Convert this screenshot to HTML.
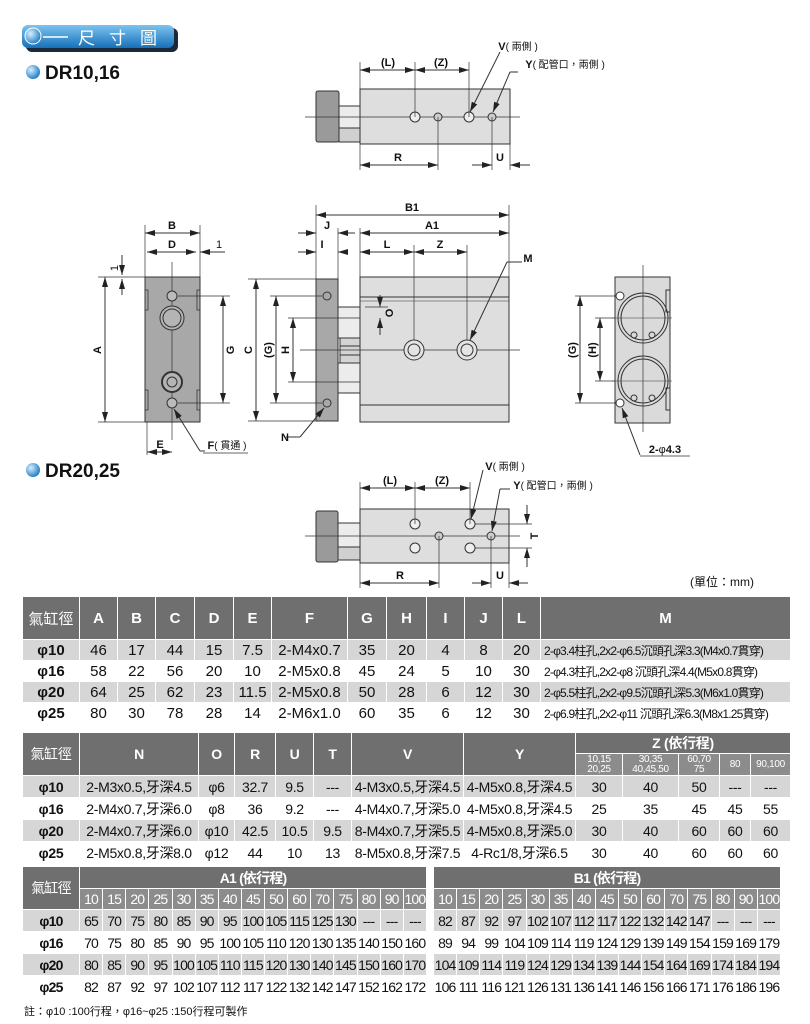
<!DOCTYPE html>
<html><head><meta charset="utf-8"><style>
body{margin:0;width:810px;height:1024px;background:#fff;position:relative;overflow:hidden;font-family:"Liberation Sans","Noto Sans CJK TC",sans-serif}
svg{position:absolute;left:0;top:0}
table{position:absolute;border-collapse:collapse;table-layout:fixed;font-family:"Liberation Sans Narrow","Liberation Sans","Noto Sans CJK TC",sans-serif;color:#111}
td{border:1px solid #fff;text-align:center;padding:0;overflow:hidden;white-space:nowrap}
.h td{background:#6f6f6f;color:#fff;font-weight:bold;font-family:"Liberation Sans","Noto Sans CJK TC",sans-serif;font-size:15px}
.s td{background:#8c8c8c;color:#fff;font-weight:normal;font-size:13px}
.g td{background:#d6d6d6}
.w td{background:#fff}
td.k{font-weight:bold;font-size:17px;font-family:"Liberation Sans",sans-serif}
.t1 td{font-size:15px}
.t1 td.m{font-size:12px;text-align:left;letter-spacing:-0.8px;padding-left:3px}
.t2 td{font-size:14px;letter-spacing:-0.3px}
.t3 td{font-size:14px;letter-spacing:-0.8px}
</style></head><body>
<svg width="810" height="600" viewBox="0 0 810 600" font-family="Liberation Sans, Noto Sans CJK TC, sans-serif">
<defs>
<marker id="a" viewBox="0 0 10 6" refX="10" refY="3" markerWidth="10" markerHeight="6" orient="auto-start-reverse" markerUnits="userSpaceOnUse"><path d="M0,0L10,3L0,6z" fill="#222"/></marker>
<linearGradient id="bl" x1="0" y1="0" x2="0" y2="1"><stop offset="0" stop-color="#7cc4f0"/><stop offset="1" stop-color="#1670b8"/></linearGradient>
<radialGradient id="ball" cx="0.35" cy="0.35" r="0.7"><stop offset="0" stop-color="#d8f0ff"/><stop offset="1" stop-color="#1a7ac4"/></radialGradient>
</defs>
<rect x="26" y="28" width="152" height="24" rx="6" fill="#1a2a3a"/>
<rect x="22" y="25" width="152" height="23" rx="6" fill="url(#bl)"/>
<circle cx="33" cy="36" r="8" fill="url(#ball)" stroke="#fff" stroke-width="1"/>
<line x1="43" y1="37" x2="68" y2="37" stroke="#fff" stroke-width="1.5"/>
<text x="78" y="44" font-size="17" fill="#fff" letter-spacing="14">尺寸圖</text>
<circle cx="33" cy="72" r="7" fill="url(#ball)"/>
<text x="45" y="79" font-size="19" font-weight="bold" fill="#111">DR10,16</text>
<circle cx="33" cy="470" r="7" fill="url(#ball)"/>
<text x="45" y="477" font-size="19" font-weight="bold" fill="#111">DR20,25</text>

<g stroke="#333" stroke-width="1" fill="none">
<rect x="316" y="91" width="23" height="51" fill="#9a9a9a" rx="2"/>
<rect x="339" y="106" width="21" height="22" fill="#ececec"/>
<rect x="339" y="128" width="21" height="14" fill="#d0d0d0"/>
<rect x="360" y="89" width="150" height="55" fill="#dedede"/>
<line x1="305" y1="117" x2="520" y2="117" stroke-width="0.7"/>
<circle cx="415" cy="117" r="5" fill="#eee"/><circle cx="438" cy="117" r="4" fill="#ccc"/>
<circle cx="469" cy="117" r="5" fill="#eee"/><circle cx="492" cy="117" r="4" fill="#ccc"/>
<line x1="360" y1="62" x2="360" y2="89" stroke-width="0.7"/><line x1="415" y1="62" x2="415" y2="117" stroke-width="0.7"/><line x1="469" y1="62" x2="469" y2="117" stroke-width="0.7"/>
<line x1="360" y1="70" x2="415" y2="70" marker-start="url(#a)" marker-end="url(#a)"/>
<line x1="415" y1="70" x2="469" y2="70" marker-start="url(#a)" marker-end="url(#a)"/>
<line x1="360" y1="144" x2="360" y2="170" stroke-width="0.7"/><line x1="438" y1="117" x2="438" y2="170" stroke-width="0.7"/>
<line x1="492" y1="117" x2="492" y2="170" stroke-width="0.7"/><line x1="510" y1="144" x2="510" y2="170" stroke-width="0.7"/>
<line x1="360" y1="165" x2="438" y2="165" marker-start="url(#a)" marker-end="url(#a)"/>
<line x1="472" y1="165" x2="492" y2="165" marker-end="url(#a)"/><line x1="530" y1="165" x2="510" y2="165" marker-end="url(#a)"/>
<line x1="500" y1="52" x2="470" y2="112" marker-end="url(#a)"/>
<line x1="518" y1="72" x2="510" y2="72"/><line x1="510" y1="72" x2="493" y2="112" marker-end="url(#a)"/>

<rect x="145" y="277" width="55" height="145" fill="#a8a8a8"/>
<path d="M145 290h3v20h-3M200 290h-3v20h3M145 390h3v20h-3M200 390h-3v20h3" stroke-width="0.8"/>
<line x1="172" y1="262" x2="172" y2="440" stroke-width="0.7"/>
<circle cx="172" cy="296" r="5" fill="#bbb"/><circle cx="172" cy="403" r="5" fill="#bbb"/>
<circle cx="172" cy="318" r="12" fill="#b4b4b4"/><circle cx="172" cy="318" r="9"/>
<circle cx="172" cy="382" r="10" fill="#b4b4b4" stroke-width="2"/><circle cx="172" cy="382" r="5"/>
<line x1="145" y1="225" x2="145" y2="277" stroke-width="0.7"/><line x1="200" y1="225" x2="200" y2="277" stroke-width="0.7"/>
<line x1="145" y1="233" x2="200" y2="233" marker-start="url(#a)" marker-end="url(#a)"/>
<line x1="147" y1="252" x2="196" y2="252" marker-start="url(#a)" marker-end="url(#a)"/>
<line x1="225" y1="252" x2="200" y2="252" marker-end="url(#a)"/>
<line x1="98" y1="277" x2="145" y2="277" stroke-width="0.7"/><line x1="98" y1="422" x2="145" y2="422" stroke-width="0.7"/>
<line x1="105" y1="277" x2="105" y2="422" marker-start="url(#a)" marker-end="url(#a)"/>
<line x1="122" y1="255" x2="122" y2="275" marker-end="url(#a)"/><line x1="122" y1="295" x2="122" y2="279" marker-end="url(#a)"/>
<line x1="178" y1="296" x2="230" y2="296" stroke-width="0.7"/><line x1="178" y1="403" x2="230" y2="403" stroke-width="0.7"/>
<line x1="223" y1="296" x2="223" y2="403" marker-start="url(#a)" marker-end="url(#a)"/>
<line x1="147" y1="422" x2="147" y2="455" stroke-width="0.7"/>
<line x1="147" y1="452" x2="172" y2="452" marker-start="url(#a)" marker-end="url(#a)"/>
<line x1="205" y1="451" x2="200" y2="451"/><line x1="200" y1="451" x2="174" y2="409" marker-end="url(#a)"/>
<line x1="203" y1="453" x2="248" y2="453" stroke-width="0.7"/>

<rect x="316" y="279" width="22" height="142" fill="#a8a8a8"/>
<circle cx="327" cy="296" r="4"/><circle cx="327" cy="403" r="4"/>
<rect x="338" y="307" width="22" height="31" fill="#ececec"/>
<rect x="338" y="363" width="22" height="30" fill="#ececec"/>
<rect x="340" y="338" width="20" height="25" fill="#d4d4d4"/>
<line x1="340" y1="346" x2="360" y2="346"/><line x1="340" y1="355" x2="360" y2="355"/>
<rect x="360" y="277" width="149" height="145" fill="#dedede"/>
<line x1="360" y1="297" x2="509" y2="297"/><line x1="360" y1="301" x2="509" y2="301" stroke-width="0.6"/>
<line x1="360" y1="405" x2="509" y2="405"/>
<line x1="300" y1="350" x2="520" y2="350" stroke-width="0.7"/>
<circle cx="414" cy="350" r="10" fill="#e4e4e4"/><circle cx="414" cy="350" r="6"/>
<circle cx="467" cy="350" r="10" fill="#e4e4e4"/><circle cx="467" cy="350" r="6"/>
<line x1="316" y1="205" x2="316" y2="279" stroke-width="0.7"/><line x1="509" y1="205" x2="509" y2="277" stroke-width="0.7"/>
<line x1="338" y1="228" x2="338" y2="279" stroke-width="0.7"/><line x1="360" y1="228" x2="360" y2="277" stroke-width="0.7"/>
<line x1="414" y1="245" x2="414" y2="340" stroke-width="0.7"/><line x1="467" y1="245" x2="467" y2="340" stroke-width="0.7"/>
<line x1="316" y1="215" x2="509" y2="215" marker-start="url(#a)" marker-end="url(#a)"/>
<line x1="298" y1="233" x2="316" y2="233" marker-end="url(#a)"/><line x1="355" y1="233" x2="338" y2="233" marker-end="url(#a)"/>
<line x1="360" y1="233" x2="509" y2="233" marker-start="url(#a)" marker-end="url(#a)"/>
<line x1="298" y1="252" x2="316" y2="252" marker-end="url(#a)"/><line x1="346" y1="252" x2="338" y2="252" marker-end="url(#a)"/>
<line x1="360" y1="252" x2="414" y2="252" marker-start="url(#a)" marker-end="url(#a)"/>
<line x1="414" y1="252" x2="467" y2="252" marker-start="url(#a)" marker-end="url(#a)"/>
<line x1="522" y1="262" x2="507" y2="262"/><line x1="507" y1="262" x2="470" y2="340" marker-end="url(#a)"/>
<line x1="248" y1="279" x2="316" y2="279" stroke-width="0.7"/><line x1="248" y1="421" x2="316" y2="421" stroke-width="0.7"/>
<line x1="256" y1="279" x2="256" y2="421" marker-start="url(#a)" marker-end="url(#a)"/>
<line x1="270" y1="296" x2="322" y2="296" stroke-width="0.7"/><line x1="270" y1="403" x2="322" y2="403" stroke-width="0.7"/>
<line x1="276" y1="296" x2="276" y2="403" marker-start="url(#a)" marker-end="url(#a)"/>
<line x1="288" y1="318" x2="360" y2="318" stroke-width="0.7"/><line x1="288" y1="382" x2="360" y2="382" stroke-width="0.7"/>
<line x1="293" y1="318" x2="293" y2="382" marker-start="url(#a)" marker-end="url(#a)"/>
<line x1="365" y1="307" x2="388" y2="307" stroke-width="0.7"/>
<line x1="380" y1="295" x2="380" y2="307" marker-end="url(#a)"/><line x1="380" y1="335" x2="380" y2="318" marker-end="url(#a)"/>
<line x1="286" y1="437" x2="300" y2="437"/><line x1="300" y1="437" x2="324" y2="408" marker-end="url(#a)"/>

<rect x="615" y="277" width="55" height="146" fill="#dadada"/>
<line x1="643" y1="265" x2="643" y2="432" stroke-width="0.7"/>
<circle cx="643" cy="318" r="25"/><circle cx="643" cy="318" r="22"/>
<circle cx="643" cy="381" r="25"/><circle cx="643" cy="381" r="22"/>
<line x1="612" y1="318" x2="672" y2="318" stroke-width="0.6"/><line x1="612" y1="381" x2="672" y2="381" stroke-width="0.6"/>
<circle cx="634" cy="335" r="3"/><circle cx="652" cy="335" r="3"/><circle cx="634" cy="398" r="3"/><circle cx="652" cy="398" r="3"/>
<circle cx="620" cy="296" r="4" fill="#fff"/><circle cx="620" cy="403" r="4" fill="#fff"/>
<path d="M670 290h-4v22h4M670 388h-4v22h4"/>
<line x1="575" y1="296" x2="616" y2="296" stroke-width="0.7"/><line x1="575" y1="403" x2="616" y2="403" stroke-width="0.7"/>
<line x1="580" y1="296" x2="580" y2="403" marker-start="url(#a)" marker-end="url(#a)"/>
<line x1="595" y1="318" x2="615" y2="318" stroke-width="0.7"/><line x1="595" y1="381" x2="615" y2="381" stroke-width="0.7"/>
<line x1="600" y1="318" x2="600" y2="381" marker-start="url(#a)" marker-end="url(#a)"/>
<line x1="640" y1="455" x2="622" y2="408" marker-end="url(#a)"/>
<line x1="640" y1="456" x2="690" y2="456" stroke-width="0.7"/>

<rect x="316" y="511" width="22" height="51" fill="#9a9a9a" rx="2"/>
<rect x="338" y="523" width="22" height="24" fill="#ececec"/>
<rect x="338" y="547" width="22" height="13" fill="#d0d0d0"/>
<rect x="360" y="509" width="149" height="54" fill="#dedede"/>
<line x1="305" y1="536" x2="520" y2="536" stroke-width="0.7"/>
<circle cx="415" cy="524" r="5" fill="#eee"/><circle cx="470" cy="524" r="5" fill="#eee"/>
<circle cx="415" cy="548" r="5" fill="#eee"/><circle cx="470" cy="548" r="5" fill="#eee"/>
<circle cx="439" cy="536" r="4" fill="#ccc"/><circle cx="491" cy="536" r="4" fill="#ccc"/>
<line x1="360" y1="482" x2="360" y2="509" stroke-width="0.7"/><line x1="415" y1="482" x2="415" y2="524" stroke-width="0.7"/><line x1="470" y1="482" x2="470" y2="524" stroke-width="0.7"/>
<line x1="360" y1="488" x2="415" y2="488" marker-start="url(#a)" marker-end="url(#a)"/>
<line x1="415" y1="488" x2="470" y2="488" marker-start="url(#a)" marker-end="url(#a)"/>
<line x1="360" y1="563" x2="360" y2="588" stroke-width="0.7"/><line x1="439" y1="536" x2="439" y2="588" stroke-width="0.7"/>
<line x1="491" y1="536" x2="491" y2="588" stroke-width="0.7"/><line x1="509" y1="563" x2="509" y2="588" stroke-width="0.7"/>
<line x1="360" y1="583" x2="439" y2="583" marker-start="url(#a)" marker-end="url(#a)"/>
<line x1="472" y1="583" x2="491" y2="583" marker-end="url(#a)"/><line x1="528" y1="583" x2="509" y2="583" marker-end="url(#a)"/>
<line x1="475" y1="524" x2="532" y2="524" stroke-width="0.7"/><line x1="475" y1="548" x2="532" y2="548" stroke-width="0.7"/>
<line x1="527" y1="505" x2="527" y2="524" marker-end="url(#a)"/><line x1="527" y1="567" x2="527" y2="548" marker-end="url(#a)"/>
<line x1="483" y1="470" x2="471" y2="519" marker-end="url(#a)"/>
<line x1="510" y1="489" x2="500" y2="489"/><line x1="500" y1="489" x2="492" y2="531" marker-end="url(#a)"/>
</g>

<g font-size="11" font-weight="bold" fill="#111" text-anchor="middle">
<text x="388" y="66">(L)</text><text x="441" y="66">(Z)</text>
<text x="398" y="161">R</text><text x="500" y="161">U</text>
<text x="518" y="50">V<tspan font-weight="normal" font-size="10">( 兩側 )</tspan></text>
<text x="565" y="68">Y<tspan font-weight="normal" font-size="10">( 配管口，兩側 )</tspan></text>
<text x="172" y="229">B</text><text x="172" y="248">D</text><text x="219" y="248" font-weight="normal">1</text>
<text x="160" y="448">E</text>
<text x="227" y="449">F<tspan font-weight="normal" font-size="10">( 貫通 )</tspan></text>
<text x="412" y="211">B1</text><text x="327" y="229">J</text><text x="432" y="229">A1</text>
<text x="322" y="248">I</text><text x="387" y="248">L</text><text x="440" y="248">Z</text>
<text x="528" y="262">M</text><text x="285" y="441">N</text>
<text x="665" y="453">2-<tspan font-weight="normal">φ</tspan>4.3</text>
<text x="390" y="484">(L)</text><text x="442" y="484">(Z)</text>
<text x="400" y="579">R</text><text x="500" y="579">U</text>
<text x="505" y="470">V<tspan font-weight="normal" font-size="10">( 兩側 )</tspan></text>
<text x="553" y="489">Y<tspan font-weight="normal" font-size="10">( 配管口，兩側 )</tspan></text>
<text x="0" y="0" transform="translate(101,350) rotate(-90)">A</text>
<text x="0" y="0" transform="translate(234,350) rotate(-90)">G</text>
<text x="0" y="0" transform="translate(118,268) rotate(-90)" font-weight="normal">1</text>
<text x="0" y="0" transform="translate(252,350) rotate(-90)">C</text>
<text x="0" y="0" transform="translate(272,350) rotate(-90)">(G)</text>
<text x="0" y="0" transform="translate(289,350) rotate(-90)">H</text>
<text x="0" y="0" transform="translate(393,313) rotate(-90)">O</text>
<text x="0" y="0" transform="translate(576,350) rotate(-90)">(G)</text>
<text x="0" y="0" transform="translate(596,350) rotate(-90)">(H)</text>
<text x="0" y="0" transform="translate(538,536) rotate(-90)">T</text>
</g>
<text x="690" y="586" font-size="12" fill="#111">(單位：mm)</text>
</svg>

<table class="t1" style="left:22px;top:596px;width:768px">
<colgroup><col style="width:57px"><col style="width:38px"><col style="width:38px"><col style="width:39px"><col style="width:39px"><col style="width:38px"><col style="width:76px"><col style="width:39px"><col style="width:40px"><col style="width:38px"><col style="width:38px"><col style="width:38px"><col style="width:250px"></colgroup>
<tr class="h" style="height:43px"><td style="font-weight:normal">氣缸徑</td><td>A</td><td>B</td><td>C</td><td>D</td><td>E</td><td>F</td><td>G</td><td>H</td><td>I</td><td>J</td><td>L</td><td>M</td></tr>
<tr class="g" style="height:21px"><td class="k">φ10</td><td>46</td><td>17</td><td>44</td><td>15</td><td>7.5</td><td>2-M4x0.7</td><td>35</td><td>20</td><td>4</td><td>8</td><td>20</td><td class="m">2-φ3.4柱孔,2x2-φ6.5沉頭孔深3.3(M4x0.7貫穿)</td></tr>
<tr class="w" style="height:21px"><td class="k">φ16</td><td>58</td><td>22</td><td>56</td><td>20</td><td>10</td><td>2-M5x0.8</td><td>45</td><td>24</td><td>5</td><td>10</td><td>30</td><td class="m">2-φ4.3柱孔,2x2-φ8 沉頭孔深4.4(M5x0.8貫穿)</td></tr>
<tr class="g" style="height:21px"><td class="k">φ20</td><td>64</td><td>25</td><td>62</td><td>23</td><td>11.5</td><td>2-M5x0.8</td><td>50</td><td>28</td><td>6</td><td>12</td><td>30</td><td class="m">2-φ5.5柱孔,2x2-φ9.5沉頭孔深5.3(M6x1.0貫穿)</td></tr>
<tr class="w" style="height:21px"><td class="k">φ25</td><td>80</td><td>30</td><td>78</td><td>28</td><td>14</td><td>2-M6x1.0</td><td>60</td><td>35</td><td>6</td><td>12</td><td>30</td><td class="m">2-φ6.9柱孔,2x2-φ11 沉頭孔深6.3(M8x1.25貫穿)</td></tr>
</table>

<table class="t2" style="left:22px;top:732px;width:768px">
<colgroup><col style="width:57px"><col style="width:119px"><col style="width:36px"><col style="width:41px"><col style="width:38px"><col style="width:38px"><col style="width:112px"><col style="width:112px"><col style="width:47px"><col style="width:56px"><col style="width:41px"><col style="width:31px"><col style="width:40px"></colgroup>
<tr class="h" style="height:20px"><td rowspan="2" style="font-weight:normal">氣缸徑</td><td rowspan="2">N</td><td rowspan="2">O</td><td rowspan="2">R</td><td rowspan="2">U</td><td rowspan="2">T</td><td rowspan="2">V</td><td rowspan="2">Y</td><td colspan="5">Z (依行程)</td></tr>
<tr class="s" style="height:22px;line-height:10px"><td style="font-size:10px">10,15<br>20,25</td><td style="font-size:10px">30,35<br>40,45,50</td><td style="font-size:10px">60,70<br>75</td><td style="font-size:10px">80</td><td style="font-size:10px">90,100</td></tr>
<tr class="g" style="height:22px"><td class="k">φ10</td><td>2-M3x0.5,牙深4.5</td><td>φ6</td><td>32.7</td><td>9.5</td><td>---</td><td>4-M3x0.5,牙深4.5</td><td>4-M5x0.8,牙深4.5</td><td>30</td><td>40</td><td>50</td><td>---</td><td>---</td></tr>
<tr class="w" style="height:22px"><td class="k">φ16</td><td>2-M4x0.7,牙深6.0</td><td>φ8</td><td>36</td><td>9.2</td><td>---</td><td>4-M4x0.7,牙深5.0</td><td>4-M5x0.8,牙深4.5</td><td>25</td><td>35</td><td>45</td><td>45</td><td>55</td></tr>
<tr class="g" style="height:22px"><td class="k">φ20</td><td>2-M4x0.7,牙深6.0</td><td>φ10</td><td>42.5</td><td>10.5</td><td>9.5</td><td>8-M4x0.7,牙深5.5</td><td>4-M5x0.8,牙深5.0</td><td>30</td><td>40</td><td>60</td><td>60</td><td>60</td></tr>
<tr class="w" style="height:22px"><td class="k">φ25</td><td>2-M5x0.8,牙深8.0</td><td>φ12</td><td>44</td><td>10</td><td>13</td><td>8-M5x0.8,牙深7.5</td><td>4-Rc1/8,牙深6.5</td><td>30</td><td>40</td><td>60</td><td>60</td><td>60</td></tr>
</table>

<table class="t3" style="left:22px;top:866px;width:404px">
<colgroup><col style="width:57px"><col span="15" style="width:23.13px"></colgroup>
<tr class="h" style="height:22px"><td rowspan="2" style="font-weight:normal">氣缸徑</td><td colspan="15">A1 (依行程)</td></tr>
<tr class="s" style="height:21px"><td>10</td><td>15</td><td>20</td><td>25</td><td>30</td><td>35</td><td>40</td><td>45</td><td>50</td><td>60</td><td>70</td><td>75</td><td>80</td><td>90</td><td>100</td></tr>
<tr class="g" style="height:22px"><td class="k">φ10</td><td>65</td><td>70</td><td>75</td><td>80</td><td>85</td><td>90</td><td>95</td><td>100</td><td>105</td><td>115</td><td>125</td><td>130</td><td>---</td><td>---</td><td>---</td></tr>
<tr class="w" style="height:22px"><td class="k">φ16</td><td>70</td><td>75</td><td>80</td><td>85</td><td>90</td><td>95</td><td>100</td><td>105</td><td>110</td><td>120</td><td>130</td><td>135</td><td>140</td><td>150</td><td>160</td></tr>
<tr class="g" style="height:22px"><td class="k">φ20</td><td>80</td><td>85</td><td>90</td><td>95</td><td>100</td><td>105</td><td>110</td><td>115</td><td>120</td><td>130</td><td>140</td><td>145</td><td>150</td><td>160</td><td>170</td></tr>
<tr class="w" style="height:22px"><td class="k">φ25</td><td>82</td><td>87</td><td>92</td><td>97</td><td>102</td><td>107</td><td>112</td><td>117</td><td>122</td><td>132</td><td>142</td><td>147</td><td>152</td><td>162</td><td>172</td></tr>
</table>

<table class="t3" style="left:433px;top:866px;width:347px">
<colgroup><col span="15" style="width:23.13px"></colgroup>
<tr class="h" style="height:22px"><td colspan="15">B1 (依行程)</td></tr>
<tr class="s" style="height:21px"><td>10</td><td>15</td><td>20</td><td>25</td><td>30</td><td>35</td><td>40</td><td>45</td><td>50</td><td>60</td><td>70</td><td>75</td><td>80</td><td>90</td><td>100</td></tr>
<tr class="g" style="height:22px"><td>82</td><td>87</td><td>92</td><td>97</td><td>102</td><td>107</td><td>112</td><td>117</td><td>122</td><td>132</td><td>142</td><td>147</td><td>---</td><td>---</td><td>---</td></tr>
<tr class="w" style="height:22px"><td>89</td><td>94</td><td>99</td><td>104</td><td>109</td><td>114</td><td>119</td><td>124</td><td>129</td><td>139</td><td>149</td><td>154</td><td>159</td><td>169</td><td>179</td></tr>
<tr class="g" style="height:22px"><td>104</td><td>109</td><td>114</td><td>119</td><td>124</td><td>129</td><td>134</td><td>139</td><td>144</td><td>154</td><td>164</td><td>169</td><td>174</td><td>184</td><td>194</td></tr>
<tr class="w" style="height:22px"><td>106</td><td>111</td><td>116</td><td>121</td><td>126</td><td>131</td><td>136</td><td>141</td><td>146</td><td>156</td><td>166</td><td>171</td><td>176</td><td>186</td><td>196</td></tr>
</table>

<div style="position:absolute;left:24px;top:1003px;font-size:11px;color:#111;font-family:'Liberation Sans','Noto Sans CJK TC',sans-serif">註：φ10 :100行程，φ16~φ25 :150行程可製作</div>
</body></html>
